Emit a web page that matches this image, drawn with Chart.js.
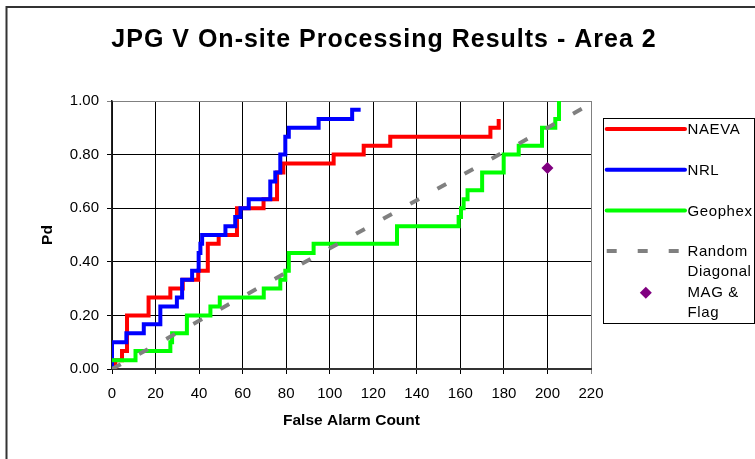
<!DOCTYPE html>
<html>
<head>
<meta charset="utf-8">
<script src="https://cdn.jsdelivr.net/npm/chart.js@4.4.0/dist/chart.umd.min.js"></script>
<style>
  body { margin: 0; background: #fff; }
</style>
</head>
<body>
<canvas id="myChart" width="755" height="459"></canvas>
<script>
const chartTitle = "JPG V On-site Processing Results - Area 2";

// false alarm count where each detection step happens, and Pd reached there
const naevaFA = [0, 1.5, 4.6, 6.9, 16.8, 26.8, 32.5, 39.6, 44, 49, 57.4, 69.6, 75.8, 78.7, 101.8, 115.6, 127.8, 173.8, 177.6];
const naevaPd = [0, 0.033, 0.067, 0.2, 0.267, 0.3, 0.333, 0.367, 0.467, 0.5, 0.6, 0.633, 0.733, 0.767, 0.8, 0.833, 0.867, 0.9, 0.933];

const nrlFA = [0, 0, 6.6, 14.6, 22.2, 29.8, 32.2, 36.8, 39.8, 40.6, 41.4, 52.1, 56.6, 59, 62.8, 72.7, 75, 77.3, 79.6, 81.2, 94.9, 110.3, 114.2];
const nrlPd = [0, 0.1, 0.133, 0.167, 0.233, 0.267, 0.333, 0.367, 0.433, 0.467, 0.5, 0.533, 0.567, 0.6, 0.633, 0.7, 0.733, 0.8, 0.867, 0.9, 0.933, 0.967, 0.967];

const geophexFA = [0, 10.8, 26.8, 27.6, 34.4, 45.2, 49.5, 69.7, 77.3, 79.6, 81.2, 92.6, 130.9, 159.2, 160.3, 161.5, 163.3, 170, 179.9, 186.8, 197.5, 203.6, 205.3];
const geophexPd = [0.033, 0.067, 0.1, 0.133, 0.2, 0.233, 0.267, 0.3, 0.333, 0.367, 0.433, 0.467, 0.533, 0.567, 0.6, 0.633, 0.667, 0.733, 0.8, 0.833, 0.9, 0.933, 1.0];

const randomFA = [0, 220];
const randomPd = [0, 0.99];

const magFA = [200];
const magPd = [0.75];

const xTicks = [0, 20, 40, 60, 80, 100, 120, 140, 160, 180, 200, 220];
const yTicks = [0, 0.2, 0.4, 0.6, 0.8, 1.0];

function toPoints(xs, ys) {
	return xs.map(function (x, i) {
		return { x: x, y: ys[i] };
	});
}

// white page with the outer frame of the chart object
const framePlugin = {
	id: "frame",
	beforeDraw: function (chart) {
		const ctx = chart.ctx;
		ctx.save();
		ctx.fillStyle = "#fff";
		ctx.fillRect(0, 0, chart.width, chart.height);
		ctx.strokeStyle = "#333";
		ctx.lineWidth = 2;
		ctx.strokeRect(6.5, 7, 800, 500);
		ctx.restore();
	},
};

// title and the boxed legend on the right
const titleLegendPlugin = {
	id: "titleLegend",
	afterDraw: function (chart) {
		const ctx = chart.ctx;
		ctx.save();
		ctx.fillStyle = "#000";
		ctx.font = "bold 25px 'Liberation Sans', Arial, sans-serif";
		ctx.letterSpacing = "1px";
		ctx.textAlign = "center";
		ctx.textBaseline = "alphabetic";
		ctx.fillText(chartTitle, 384, 46.5);

		ctx.letterSpacing = "0.6px";
		ctx.strokeStyle = "#000";
		ctx.lineWidth = 1;
		ctx.strokeRect(603.5, 118.5, 151, 205);

		ctx.font = "15px 'Liberation Sans', Arial, sans-serif";
		ctx.textAlign = "left";
		ctx.textBaseline = "middle";
		const textX = 687.5;
		const maxW = 66;
		let y = 130;
		chart.data.datasets.forEach(function (ds) {
			// wrap the label into the box width
			const words = ds.label.split(" ");
			const lines = [];
			let cur = "";
			words.forEach(function (w) {
				const test = cur ? cur + " " + w : w;
				if (cur && ctx.measureText(test).width > maxW) {
					lines.push(cur);
					cur = w;
				} else {
					cur = test;
				}
			});
			lines.push(cur);

			const symY = y - 1;
			if (ds.showLine === false) {
				const r = 6;
				const cx = 645.8;
				ctx.fillStyle = ds.backgroundColor;
				ctx.beginPath();
				ctx.moveTo(cx, y - r);
				ctx.lineTo(cx + r, y);
				ctx.lineTo(cx, y + r);
				ctx.lineTo(cx - r, y);
				ctx.closePath();
				ctx.fill();
			} else {
				ctx.strokeStyle = ds.borderColor;
				ctx.lineWidth = ds.borderWidth;
				ctx.setLineDash(ds.borderDash || []);
				ctx.lineCap = ds.borderDash ? "butt" : "round";
				ctx.beginPath();
				ctx.moveTo(606.7, symY);
				ctx.lineTo(685, symY);
				ctx.stroke();
				ctx.setLineDash([]);
			}

			ctx.fillStyle = "#000";
			lines.forEach(function (line, i) {
				ctx.fillText(line, textX, y + i * 20);
			});
			y += 40.7;
		});
		ctx.restore();
	},
};

const tickFont = { family: "'Liberation Sans', Arial, sans-serif", size: 15 };
const axisTitleFont = { family: "'Liberation Sans', Arial, sans-serif", size: 15.5, weight: "bold" };

const data = {
	datasets: [
		{
			label: "NAEVA",
			data: toPoints(naevaFA, naevaPd),
			borderColor: "#ff0000",
			borderWidth: 4,
			stepped: true,
			pointRadius: 0,
			order: 4,
		},
		{
			label: "NRL",
			data: toPoints(nrlFA, nrlPd),
			borderColor: "#0000ff",
			borderWidth: 4,
			stepped: true,
			pointRadius: 0,
			order: 3,
		},
		{
			label: "Geophex",
			data: toPoints(geophexFA, geophexPd),
			borderColor: "#00ff00",
			borderWidth: 4,
			stepped: true,
			pointRadius: 0,
			order: 2,
		},
		{
			label: "Random Diagonal",
			data: toPoints(randomFA, randomPd),
			borderColor: "#808080",
			borderWidth: 4,
			borderDash: [10, 21],
			pointRadius: 0,
			order: 1,
		},
		{
			label: "MAG & Flag",
			data: toPoints(magFA, magPd),
			showLine: false,
			pointStyle: "rectRot",
			pointRadius: 6,
			backgroundColor: "#800080",
			borderColor: "#800080",
			borderWidth: 0,
			order: 0,
		},
	],
};

const config = {
	type: "line",
	data: data,
	options: {
		responsive: false,
		animation: false,
		events: [],
		layout: {
			padding: { top: 101, right: 164, bottom: 0, left: 0 },
		},
		plugins: {
			legend: { display: false },
			title: { display: false },
			tooltip: { enabled: false },
		},
		scales: {
			x: {
				type: "linear",
				min: 0,
				max: 220,
				afterBuildTicks: function (scale) {
					scale.ticks = xTicks.map(function (v) {
						return { value: v };
					});
				},
				afterFit: function (scale) {
					scale.height = 90;
				},
				grid: {
					color: function (c) {
						return c.tick && c.tick.value === 220 ? "#808080" : "#000";
					},
					tickLength: 5,
				},
				border: { color: "#333", width: 2 },
				ticks: {
					color: "#000",
					font: tickFont,
					padding: 11,
					maxRotation: 0,
				},
				title: {
					display: true,
					text: "False Alarm Count",
					color: "#000",
					font: axisTitleFont,
					padding: { top: 0, bottom: 28.7 },
				},
			},
			y: {
				min: 0,
				max: 1,
				afterBuildTicks: function (scale) {
					scale.ticks = yTicks.map(function (v) {
						return { value: v };
					});
				},
				afterFit: function (scale) {
					scale.width = 112;
				},
				grid: {
					color: function (c) {
						return c.tick && c.tick.value === 1 ? "#808080" : "#000";
					},
					tickLength: 5,
				},
				border: { color: "#222", width: 1.5 },
				ticks: {
					color: "#000",
					font: tickFont,
					padding: 8,
					callback: function (v) {
						return v.toFixed(2);
					},
				},
				title: {
					display: true,
					text: "Pd",
					color: "#000",
					font: axisTitleFont,
					padding: { top: 38.2, bottom: 0 },
				},
			},
		},
	},
	plugins: [framePlugin, titleLegendPlugin],
};

const myChart = new Chart(document.getElementById("myChart"), config);
</script>
</body>
</html>
